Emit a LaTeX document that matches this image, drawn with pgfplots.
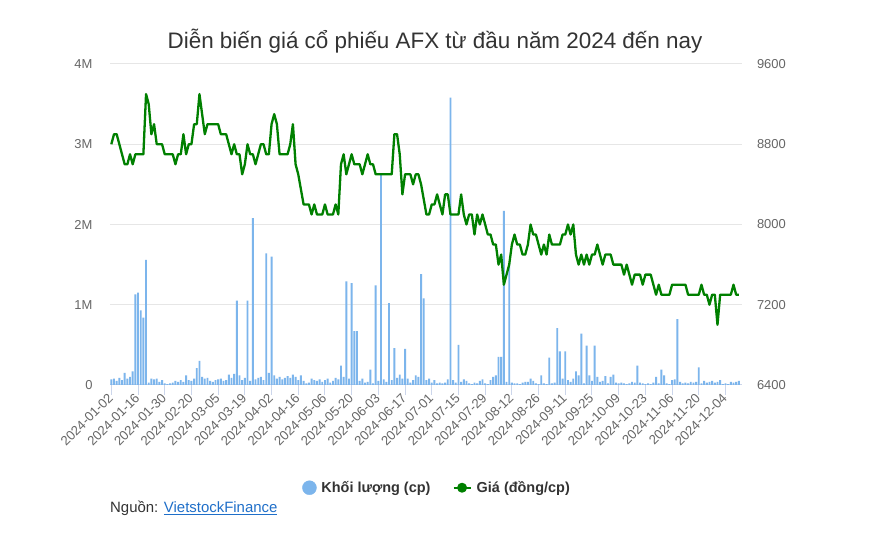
\documentclass[border=0pt]{standalone}
\usepackage{fontspec}
\setmainfont{Liberation Sans}
\usepackage{pgfplots}
\pgfplotsset{compat=1.18}
\definecolor{volblue}{HTML}{7CB5EC}
\definecolor{pricegreen}{HTML}{008000}
\definecolor{gridc}{HTML}{E6E6E6}
\definecolor{axisc}{HTML}{CCD6EB}
\definecolor{labc}{HTML}{666666}
\definecolor{titc}{HTML}{333333}
\definecolor{linkc}{HTML}{1F6FC9}
\begin{document}
\begin{tikzpicture}[x=1bp,y=1bp]
\path[use as bounding box, fill=white] (0,0) rectangle (870,542);
\node[text=titc, font=\fontsize{22.5}{27}\selectfont] at (435,501) {Diễn biến giá cổ phiếu AFX từ đầu năm 2024 đến nay};
\begin{axis}[
  at={(110bp,157bp)}, anchor=south west,
  scale only axis, width=631.5bp, height=321bp,
  xmin=-0.5, xmax=236, ymin=0, ymax=4,
  axis x line*=bottom, axis y line*=left,
  y axis line style={draw=none},
  x axis line style={axisc, line width=1bp},
  tick align=outside,
  xtick={0,10,...,230},
  xticklabels={2024-01-02,2024-01-16,2024-01-30,2024-02-20,2024-03-05,2024-03-19,2024-04-02,2024-04-16,2024-05-06,2024-05-20,2024-06-03,2024-06-17,2024-07-01,2024-07-15,2024-07-29,2024-08-12,2024-08-26,2024-09-11,2024-09-25,2024-10-09,2024-10-23,2024-11-06,2024-11-20,2024-12-04},
  xtick style={axisc, line width=1bp},
  major tick length=10bp,
  xticklabel style={rotate=45, anchor=east, text=labc, font=\fontsize{13.2}{15}\selectfont, inner sep=1bp},
  ytick={0,1,2,3,4},
  yticklabels={0,1M,2M,3M,4M},
  ytick style={draw=none},
  yticklabel style={text=labc, font=\fontsize{13}{15}\selectfont, xshift=-4bp},
  ymajorgrids, grid style={gridc, line width=1bp},
]
\addplot[ybar, bar width=1.9bp, fill=volblue, draw=none] coordinates {
(0,0.07)(1,0.08)(2,0.05)(3,0.09)(4,0.06)(5,0.15)(6,0.08)(7,0.10)(8,0.17)(9,1.13)
(10,1.15)(11,0.93)(12,0.84)(13,1.56)(14,0.03)(15,0.08)(16,0.07)(17,0.08)(18,0.04)(19,0.06)
(20,0.02)(21,0.01)(22,0.02)(23,0.03)(24,0.05)(25,0.04)(26,0.06)(27,0.04)(28,0.12)(29,0.06)
(30,0.05)(31,0.08)(32,0.21)(33,0.30)(34,0.10)(35,0.08)(36,0.09)(37,0.05)(38,0.04)(39,0.06)
(40,0.07)(41,0.08)(42,0.05)(43,0.06)(44,0.13)(45,0.09)(46,0.14)(47,1.05)(48,0.12)(49,0.06)
(50,0.09)(51,1.05)(52,0.05)(53,2.08)(54,0.07)(55,0.09)(56,0.10)(57,0.06)(58,1.64)(59,0.15)
(60,1.60)(61,0.12)(62,0.08)(63,0.10)(64,0.07)(65,0.09)(66,0.11)(67,0.09)(68,0.13)(69,0.10)
(70,0.06)(71,0.12)(72,0.05)(73,0.02)(74,0.03)(75,0.08)(76,0.06)(77,0.05)(78,0.07)(79,0.04)
(80,0.06)(81,0.08)(82,0.03)(83,0.05)(84,0.09)(85,0.07)(86,0.24)(87,0.10)(88,1.29)(89,0.08)
(90,1.27)(91,0.67)(92,0.67)(93,0.05)(94,0.08)(95,0.03)(96,0.04)(97,0.19)(98,0.02)(99,1.24)
(100,0.05)(101,2.63)(102,0.07)(103,0.04)(104,1.02)(105,0.06)(106,0.46)(107,0.09)(108,0.13)(109,0.08)
(110,0.45)(111,0.08)(112,0.03)(113,0.06)(114,0.12)(115,0.10)(116,1.38)(117,1.08)(118,0.06)(119,0.08)
(120,0.03)(121,0.06)(122,0.02)(123,0.03)(124,0.02)(125,0.03)(126,0.07)(127,3.58)(128,0.06)(129,0.03)
(130,0.50)(131,0.04)(132,0.07)(133,0.05)(134,0.02)(135,0.01)(136,0.03)(137,0.02)(138,0.05)(139,0.07)
(140,0.02)(141,0.01)(142,0.06)(143,0.10)(144,0.12)(145,0.35)(146,0.35)(147,2.17)(148,0.04)(149,1.52)
(150,0.03)(151,0.02)(152,0.02)(153,0.01)(154,0.03)(155,0.04)(156,0.04)(157,0.08)(158,0.05)(159,0.02)
(160,0.01)(161,0.12)(162,0.02)(163,0.01)(164,0.34)(165,0.02)(166,0.03)(167,0.71)(168,0.42)(169,0.08)
(170,0.42)(171,0.06)(172,0.04)(173,0.08)(174,0.17)(175,0.12)(176,0.64)(177,0.02)(178,0.49)(179,0.12)
(180,0.05)(181,0.49)(182,0.10)(183,0.04)(184,0.05)(185,0.11)(186,0.02)(187,0.10)(188,0.13)(189,0.03)
(190,0.02)(191,0.03)(192,0.02)(193,0.01)(194,0.02)(195,0.04)(196,0.03)(197,0.24)(198,0.03)(199,0.02)
(200,0.01)(201,0.02)(202,0.01)(203,0.03)(204,0.10)(205,0.02)(206,0.19)(207,0.12)(208,0.02)(209,0.01)
(210,0.06)(211,0.07)(212,0.82)(213,0.04)(214,0.02)(215,0.03)(216,0.02)(217,0.04)(218,0.03)(219,0.04)
(220,0.22)(221,0.02)(222,0.05)(223,0.03)(224,0.04)(225,0.05)(226,0.03)(227,0.04)(228,0.06)(229,0.01)
(230,0.02)(231,0.01)(232,0.04)(233,0.03)(234,0.04)(235,0.05)
};
\end{axis}
\begin{axis}[
  at={(110bp,157bp)}, anchor=south west,
  scale only axis, width=631.5bp, height=321bp,
  xmin=-0.5, xmax=236, ymin=6400, ymax=9600,
  axis x line=none, axis y line*=right,
  y axis line style={draw=none},
  ytick={6400,7200,8000,8800,9600},
  yticklabels={6400,7200,8000,8800,9600},
  ytick style={draw=none},
  yticklabel style={text=labc, font=\fontsize{13}{15}\selectfont, xshift=12bp},
  legend style={at={(0.518,-0.32)}, anchor=center, draw=none, fill=none,
    font=\bfseries\fontsize{14.5}{17}\selectfont, text=titc,
    /tikz/every even column/.append style={column sep=20bp},
    /tikz/every odd column/.append style={column sep=3bp}},
  legend columns=2, legend cell align=left,
]
\addlegendimage{only marks, mark=*, mark size=7bp, volblue, mark options={fill=volblue, draw=volblue}}
\addlegendentry{Khối lượng (cp)}
\addplot[pricegreen, line width=2.3bp, line join=round, mark=*, mark size=3.8bp, mark options={fill=pricegreen}, mark repeat=1000, mark phase=1000] coordinates {
(0,8800)(1,8900)(2,8900)(3,8800)(4,8700)(5,8600)(6,8600)(7,8700)(8,8600)(9,8700)
(10,8700)(11,8700)(12,8700)(13,9300)(14,9200)(15,8900)(16,9000)(17,8800)(18,8800)(19,8800)
(20,8700)(21,8700)(22,8700)(23,8700)(24,8600)(25,8700)(26,8700)(27,8900)(28,8700)(29,8800)
(30,8800)(31,9000)(32,9000)(33,9300)(34,9100)(35,8900)(36,9000)(37,9000)(38,9000)(39,9000)
(40,9000)(41,8900)(42,8900)(43,8900)(44,8800)(45,8700)(46,8800)(47,8700)(48,8700)(49,8500)
(50,8600)(51,8800)(52,8700)(53,8700)(54,8600)(55,8700)(56,8800)(57,8800)(58,8700)(59,8700)
(60,9000)(61,9100)(62,9000)(63,8700)(64,8700)(65,8700)(66,8700)(67,8800)(68,9000)(69,8600)
(70,8500)(71,8350)(72,8200)(73,8200)(74,8200)(75,8100)(76,8200)(77,8100)(78,8100)(79,8100)
(80,8200)(81,8100)(82,8100)(83,8100)(84,8200)(85,8100)(86,8600)(87,8700)(88,8500)(89,8600)
(90,8700)(91,8600)(92,8600)(93,8600)(94,8500)(95,8600)(96,8700)(97,8600)(98,8600)(99,8500)
(100,8500)(101,8500)(102,8500)(103,8500)(104,8500)(105,8500)(106,8900)(107,8900)(108,8700)(109,8300)
(110,8500)(111,8500)(112,8500)(113,8400)(114,8500)(115,8500)(116,8400)(117,8250)(118,8100)(119,8100)
(120,8200)(121,8200)(122,8300)(123,8200)(124,8100)(125,8300)(126,8300)(127,8100)(128,8100)(129,8100)
(130,8100)(131,8300)(132,8100)(133,8000)(134,8100)(135,8100)(136,7900)(137,8100)(138,8000)(139,8100)
(140,8000)(141,7900)(142,7900)(143,7800)(144,7800)(145,7600)(146,7700)(147,7400)(148,7500)(149,7600)
(150,7800)(151,7900)(152,7800)(153,7800)(154,7700)(155,7700)(156,7800)(157,8000)(158,7900)(159,7900)
(160,7800)(161,7700)(162,7800)(163,7700)(164,7900)(165,7800)(166,7800)(167,7800)(168,7800)(169,7900)
(170,7900)(171,8000)(172,7900)(173,8000)(174,7700)(175,7600)(176,7700)(177,7600)(178,7700)(179,7600)
(180,7700)(181,7700)(182,7800)(183,7700)(184,7600)(185,7700)(186,7700)(187,7700)(188,7600)(189,7600)
(190,7600)(191,7600)(192,7500)(193,7600)(194,7500)(195,7400)(196,7500)(197,7500)(198,7500)(199,7400)
(200,7500)(201,7500)(202,7500)(203,7400)(204,7300)(205,7400)(206,7300)(207,7300)(208,7300)(209,7300)
(210,7400)(211,7400)(212,7400)(213,7400)(214,7400)(215,7400)(216,7300)(217,7300)(218,7300)(219,7300)
(220,7300)(221,7400)(222,7300)(223,7300)(224,7200)(225,7300)(226,7300)(227,7000)(228,7300)(229,7300)
(230,7300)(231,7300)(232,7300)(233,7400)(234,7300)(235,7300)
};
\addlegendentry{Giá (đồng/cp)}
\end{axis}
\node[anchor=west, text=titc, font=\fontsize{15}{18}\selectfont, inner sep=0pt] at (110,34) {Nguồn: \textcolor{linkc}{\underline{VietstockFinance}}};
\end{tikzpicture}
\end{document}
